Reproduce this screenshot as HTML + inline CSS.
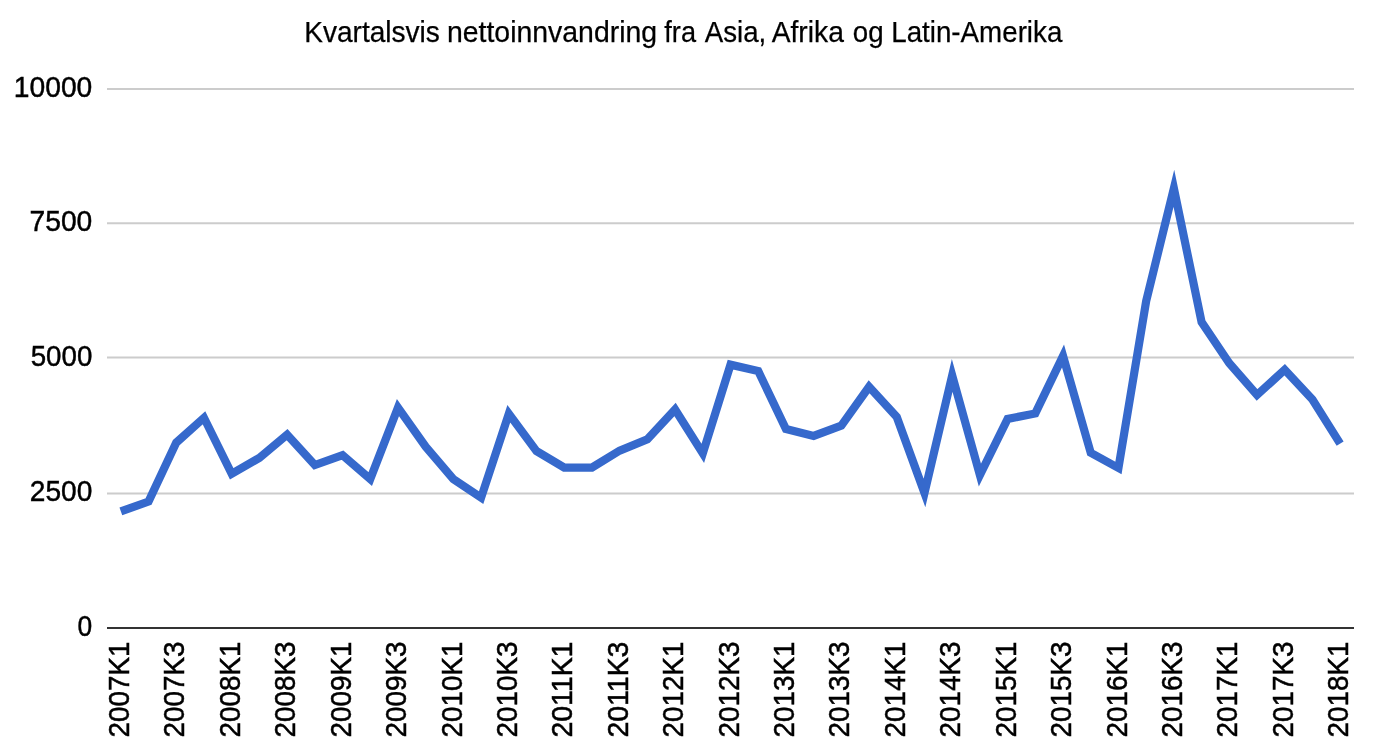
<!DOCTYPE html>
<html lang="no"><head><meta charset="utf-8">
<title>Kvartalsvis nettoinnvandring fra Asia, Afrika og Latin-Amerika</title>
<style>
html,body{margin:0;padding:0;background:#fff;}
body{width:1377px;height:756px;overflow:hidden;}
svg{display:block;}
text{font-family:"Liberation Sans", sans-serif;fill:#000;stroke:#000;stroke-width:0.4px;}
.yl{font-size:29.6px;text-anchor:end;stroke-width:0.45px;}
.xl{font-size:28.9px;text-anchor:start;stroke-width:0.5px;}
.tt{font-size:29.2px;stroke-width:0.25px;}
</style></head><body>
<svg width="1377" height="756" viewBox="0 0 1377 756">
<rect x="0" y="0" width="1377" height="756" fill="#ffffff"/>
<g class="title">
<text class="tt" y="41.70" xml:space="preserve"><tspan x="304.20" textLength="135.68" lengthAdjust="spacingAndGlyphs">Kvartalsvis</tspan> <tspan x="446.97" textLength="210.12" lengthAdjust="spacingAndGlyphs">nettoinnvandring</tspan> <tspan x="664.32" textLength="31.67" lengthAdjust="spacingAndGlyphs">fra</tspan> <tspan x="704.80" textLength="61.46" lengthAdjust="spacingAndGlyphs">Asia,</tspan> <tspan x="771.69" textLength="72.19" lengthAdjust="spacingAndGlyphs">Afrika</tspan> <tspan x="852.79" textLength="30.79" lengthAdjust="spacingAndGlyphs">og</tspan> <tspan x="891.21" textLength="171.13" lengthAdjust="spacingAndGlyphs">Latin-Amerika</tspan></text>
</g>
<g class="grid" stroke="#cccccc" stroke-width="2">
<line x1="107.0" y1="89.00" x2="1354.0" y2="89.00"/>
<line x1="107.0" y1="223.20" x2="1354.0" y2="223.20"/>
<line x1="107.0" y1="357.50" x2="1354.0" y2="357.50"/>
<line x1="107.0" y1="493.60" x2="1354.0" y2="493.60"/>
</g>
<line x1="107.0" y1="627.90" x2="1354.0" y2="627.90" stroke="#333333" stroke-width="2"/>
<g class="ylabels">
<text class="yl" x="92.30" y="97.10" textLength="78.50" lengthAdjust="spacingAndGlyphs">10000</text>
<text class="yl" x="92.30" y="231.30" textLength="62.80" lengthAdjust="spacingAndGlyphs">7500</text>
<text class="yl" x="92.30" y="365.90" textLength="61.60" lengthAdjust="spacingAndGlyphs">5000</text>
<text class="yl" x="92.30" y="501.20" textLength="62.50" lengthAdjust="spacingAndGlyphs">2500</text>
<text class="yl" x="92.30" y="636.00" textLength="14.70" lengthAdjust="spacingAndGlyphs">0</text>
</g>
<polyline fill="none" stroke="#3669cc" stroke-width="8.2" stroke-linejoin="miter" stroke-miterlimit="10" stroke-linecap="butt" points="120.86,511.40 148.57,501.50 176.28,442.60 203.99,417.80 231.70,473.70 259.41,457.90 287.12,434.70 314.83,465.00 342.54,455.20 370.26,479.00 397.97,407.60 425.68,446.70 453.39,479.20 481.10,497.70 508.81,413.80 536.52,451.10 564.23,467.60 591.94,467.60 619.66,450.60 647.37,439.20 675.08,409.50 702.79,453.40 730.50,364.70 758.21,371.00 785.92,428.90 813.63,435.90 841.34,425.70 869.06,386.80 896.77,417.00 924.48,492.90 952.19,375.40 979.90,475.00 1007.61,418.90 1035.32,413.40 1063.03,356.00 1090.74,452.80 1118.46,468.00 1146.17,301.00 1173.88,188.30 1201.59,322.10 1229.30,363.20 1257.01,395.00 1284.72,369.70 1312.43,399.50 1340.14,443.60"/>
<g class="xlabels">
<text class="xl" transform="translate(129.00 737.50) rotate(-90)" textLength="95.90" lengthAdjust="spacingAndGlyphs">2007K1</text>
<text class="xl" transform="translate(184.42 737.50) rotate(-90)" textLength="95.90" lengthAdjust="spacingAndGlyphs">2007K3</text>
<text class="xl" transform="translate(239.84 737.50) rotate(-90)" textLength="95.90" lengthAdjust="spacingAndGlyphs">2008K1</text>
<text class="xl" transform="translate(295.27 737.50) rotate(-90)" textLength="95.90" lengthAdjust="spacingAndGlyphs">2008K3</text>
<text class="xl" transform="translate(350.69 737.50) rotate(-90)" textLength="95.90" lengthAdjust="spacingAndGlyphs">2009K1</text>
<text class="xl" transform="translate(406.11 737.50) rotate(-90)" textLength="95.90" lengthAdjust="spacingAndGlyphs">2009K3</text>
<text class="xl" transform="translate(461.53 737.50) rotate(-90)" textLength="95.90" lengthAdjust="spacingAndGlyphs">2010K1</text>
<text class="xl" transform="translate(516.96 737.50) rotate(-90)" textLength="95.90" lengthAdjust="spacingAndGlyphs">2010K3</text>
<text class="xl" transform="translate(572.38 737.50) rotate(-90)" textLength="95.90" lengthAdjust="spacingAndGlyphs">2011K1</text>
<text class="xl" transform="translate(627.80 737.50) rotate(-90)" textLength="95.90" lengthAdjust="spacingAndGlyphs">2011K3</text>
<text class="xl" transform="translate(683.22 737.50) rotate(-90)" textLength="95.90" lengthAdjust="spacingAndGlyphs">2012K1</text>
<text class="xl" transform="translate(738.64 737.50) rotate(-90)" textLength="95.90" lengthAdjust="spacingAndGlyphs">2012K3</text>
<text class="xl" transform="translate(794.07 737.50) rotate(-90)" textLength="95.90" lengthAdjust="spacingAndGlyphs">2013K1</text>
<text class="xl" transform="translate(849.49 737.50) rotate(-90)" textLength="95.90" lengthAdjust="spacingAndGlyphs">2013K3</text>
<text class="xl" transform="translate(904.91 737.50) rotate(-90)" textLength="95.90" lengthAdjust="spacingAndGlyphs">2014K1</text>
<text class="xl" transform="translate(960.33 737.50) rotate(-90)" textLength="95.90" lengthAdjust="spacingAndGlyphs">2014K3</text>
<text class="xl" transform="translate(1015.76 737.50) rotate(-90)" textLength="95.90" lengthAdjust="spacingAndGlyphs">2015K1</text>
<text class="xl" transform="translate(1071.18 737.50) rotate(-90)" textLength="95.90" lengthAdjust="spacingAndGlyphs">2015K3</text>
<text class="xl" transform="translate(1126.60 737.50) rotate(-90)" textLength="95.90" lengthAdjust="spacingAndGlyphs">2016K1</text>
<text class="xl" transform="translate(1182.02 737.50) rotate(-90)" textLength="95.90" lengthAdjust="spacingAndGlyphs">2016K3</text>
<text class="xl" transform="translate(1237.44 737.50) rotate(-90)" textLength="95.90" lengthAdjust="spacingAndGlyphs">2017K1</text>
<text class="xl" transform="translate(1292.87 737.50) rotate(-90)" textLength="95.90" lengthAdjust="spacingAndGlyphs">2017K3</text>
<text class="xl" transform="translate(1348.29 737.50) rotate(-90)" textLength="95.90" lengthAdjust="spacingAndGlyphs">2018K1</text>
</g>
</svg>
</body></html>
